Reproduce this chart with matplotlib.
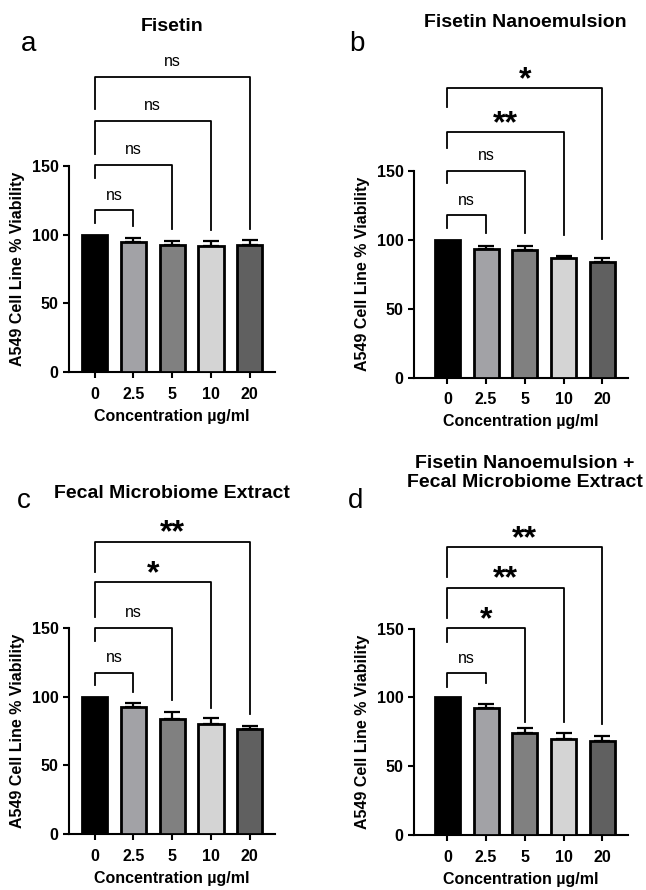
import matplotlib
matplotlib.use('Agg')
import matplotlib.pyplot as plt
import matplotlib.transforms as mtransforms

plt.rcParams['font.family'] = ['Liberation Sans', 'DejaVu Sans']
plt.rcParams['font.weight'] = 'bold'
plt.rcParams['axes.labelweight'] = 'bold'

concentrations = ['0', '2.5', '5', '10', '20']
bar_colors = ['#000000', '#a2a2a6', '#808080', '#d4d4d4', '#606060']

# mean viability and upper SD per concentration
fisetin_mean = [100, 94.8, 92.2, 91.4, 92.2]
fisetin_err = [0, 3.0, 3.4, 4.0, 3.8]
nano_mean = [100, 93.2, 93.0, 86.6, 84.0]
nano_err = [0, 2.6, 2.8, 1.7, 2.6]
fecal_mean = [100, 92.2, 83.8, 80.4, 76.5]
fecal_err = [0, 3.4, 5.2, 3.8, 2.2]
combo_mean = [100, 92.1, 74.0, 69.8, 68.1]
combo_err = [0, 3.2, 4.0, 4.6, 3.9]

# comparisons vs 0: significance label, bracket top, left leg end, right leg end
fisetin_sig = ['ns', 'ns', 'ns', 'ns']
fisetin_top = [118, 151, 183, 215]
fisetin_left = [108.5, 141, 159, 191.5]
fisetin_right = [106, 104, 103.5, 104]

nano_sig = ['ns', 'ns', '**', '*']
nano_top = [118, 150.2, 178, 210]
nano_left = [108.5, 141, 167, 196.7]
nano_right = [104.8, 104.8, 103.6, 101]

fecal_sig = ['ns', 'ns', '*', '**']
fecal_top = [117.5, 150.3, 183.3, 212.9]
fecal_left = [108.5, 140.6, 158.3, 191]
fecal_right = [103.7, 97.6, 91.5, 87.2]

combo_sig = ['ns', '*', '**', '**']
combo_top = [117.6, 150.3, 179.9, 209.2]
combo_left = [107.9, 140.6, 157.6, 187.9]
combo_right = [110.3, 82, 82, 80.5]

W, H = 646, 890
fig = plt.figure(figsize=(W / 100, H / 100), dpi=100)

panels = [
    # letter, title, mean, err, sig, top, left, right, axes px (x0, x1, y0, y150), xlim, letter px, title baseline px
    ('a', 'Fisetin', fisetin_mean, fisetin_err, fisetin_sig, fisetin_top, fisetin_left, fisetin_right,
     (69, 275, 372, 166), (-0.66, 4.65), (20.7, 50.7), 30.7),
    ('b', 'Fisetin Nanoemulsion', nano_mean, nano_err, nano_sig, nano_top, nano_left, nano_right,
     (414, 628, 377.7, 171), (-0.86, 4.66), (349.7, 50.7), 26.7),
    ('c', 'Fecal Microbiome Extract', fecal_mean, fecal_err, fecal_sig, fecal_top, fecal_left, fecal_right,
     (69, 275, 834, 628), (-0.66, 4.65), (16.7, 508), 498.3),
    ('d', 'Fisetin Nanoemulsion +\nFecal Microbiome Extract', combo_mean, combo_err, combo_sig, combo_top,
     combo_left, combo_right, (414, 628, 835, 628.7), (-0.86, 4.66), (348, 508), 486.7),
]

x = list(range(len(concentrations)))

for letter, title, mean, err, sig, top, left, right, box, xlim, lpos, tpos in panels:
    x0, x1, y0, y1 = box
    ax = fig.add_axes([x0 / W, 1 - y0 / H, (x1 - x0) / W, (y0 - y1) / H])
    ax.bar(x, mean, width=0.65, color=bar_colors, edgecolor='black', linewidth=2, zorder=3)
    ax.errorbar(x[1:], mean[1:], yerr=[[0] * (len(err) - 1), err[1:]], fmt='none', ecolor='black',
                elinewidth=1.6, capsize=5.5, capthick=1.6, zorder=2)
    ax.set_xlim(*xlim)
    ax.set_ylim(0, 150)
    ax.set_yticks([0, 50, 100, 150])
    ax.set_xticks(x)
    ax.set_xticklabels(concentrations)
    ax.spines[['top', 'right']].set_visible(False)
    for s in ['left', 'bottom']:
        ax.spines[s].set_linewidth(1.5)
    ax.tick_params(width=1.5, length=4.5, labelsize=11.5, pad=3)
    ax.tick_params(axis='x', pad=6)
    ax.set_ylabel('A549 Cell Line % Viability', fontsize=11.5, labelpad=5)
    ax.set_xlabel('Concentration µg/ml', fontsize=11.5, labelpad=5)

    for i, (lab, t, lb, rb) in enumerate(zip(sig, top, left, right), start=1):
        ax.plot([0, 0, i, i], [lb, t, t, rb], color='black', lw=1.3, clip_on=False, zorder=4)
        if lab == 'ns':
            ax.annotate(lab, xy=(i / 2, t), xytext=(0, 7.5), textcoords='offset points',
                        ha='center', va='baseline', fontsize=11.5, fontweight='normal',
                        annotation_clip=False)
        else:
            ax.annotate(lab, xy=(i / 2, t), xytext=(0, 0), textcoords='offset points',
                        ha='center', va='baseline', fontsize=23, fontweight='bold',
                        annotation_clip=False)

    trans = mtransforms.blended_transform_factory(ax.transData, fig.transFigure)
    ax.text(2, 1 - tpos / H, title, transform=trans, ha='center', va='baseline',
            fontsize=14, fontweight='bold', linespacing=1.1)
    fig.text(lpos[0] / W, 1 - lpos[1] / H, letter, ha='left', va='baseline',
             fontsize=20, fontweight='normal')

fig.savefig('out.png', dpi=100)
